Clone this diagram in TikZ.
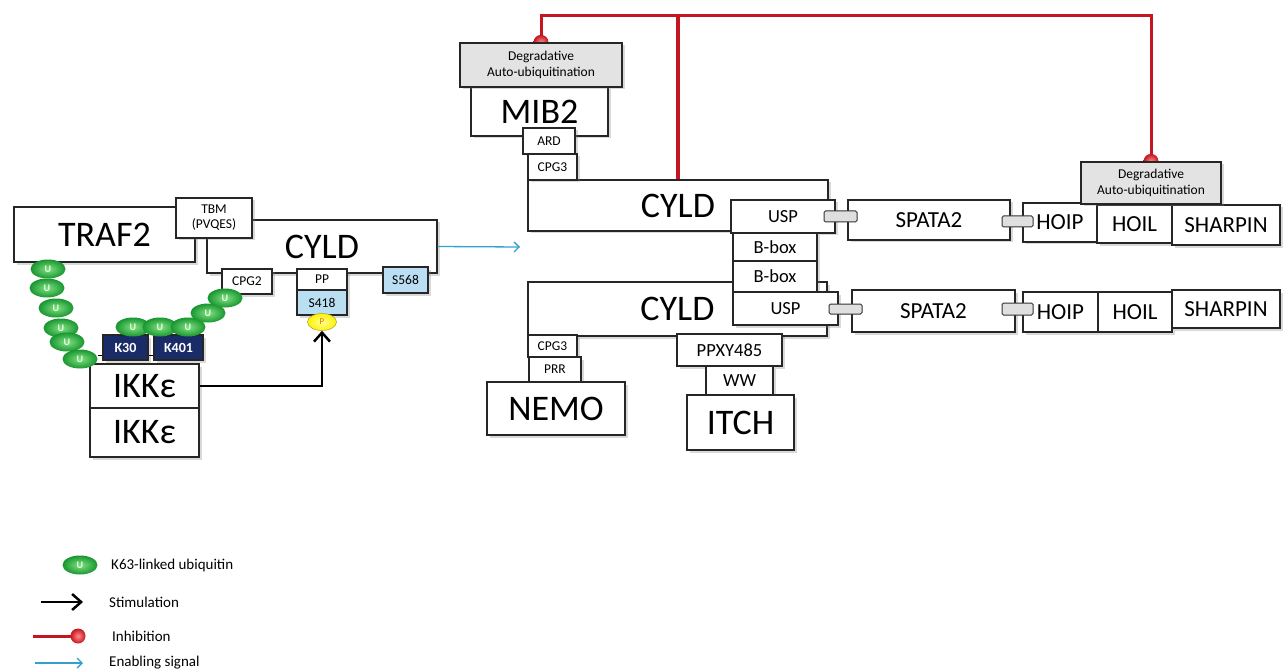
\documentclass[tikz,border=0pt]{standalone}
\usepackage{fontspec}
\setmainfont{Carlito}
\usetikzlibrary{arrows.meta}
\usetikzlibrary{shapes.geometric}
\usetikzlibrary{shadows}
\usetikzlibrary{backgrounds}

\definecolor{inhred}{RGB}{196,22,32}
\definecolor{enblue}{RGB}{52,160,208}
\definecolor{siteblue}{RGB}{186,222,242}
\definecolor{knavy}{RGB}{26,44,104}
\definecolor{ubgreen}{RGB}{24,150,48}
\definecolor{ublight}{RGB}{130,225,130}

\tikzset{
  box/.style={draw=black!85, line width=1.2pt, fill=white, inner sep=0pt,
    drop shadow={shadow xshift=2.5pt, shadow yshift=-2.5pt, opacity=0.3}},
  txtbig/.style={font=\fontsize{36}{40}\selectfont},
  txtmid/.style={font=\fontsize{23}{26}\selectfont},
  txtsml/.style={font=\fontsize{18.5}{21}\selectfont},
  txttiny/.style={font=\fontsize{13.5}{15}\selectfont},
  degbox/.style={box, fill=gray!22, align=center, font=\fontsize{13.5}{16}\selectfont},
  sitebox/.style={box, fill=siteblue, txttiny},
  lysbox/.style={box, fill=knavy, text=white, font=\fontsize{14}{15}\selectfont\bfseries},
  linker/.style={draw=black!80, line width=1pt, fill=gray!25, rounded corners=1.5pt,
    minimum width=33, minimum height=11, inner sep=0pt},
  ub/.style={ellipse, shade, inner color=ublight, outer color=ubgreen, minimum width=35, minimum height=19,
    inner sep=0pt, text=green!10, font=\fontsize{10}{10}\selectfont\bfseries},
  pdot/.style={ellipse, shade, inner color=yellow!40, outer color=yellow!90!orange, draw=yellow!60!black,
    line width=0.5pt, minimum width=29, minimum height=17,
    inner sep=0pt, text=orange!90!black, font=\fontsize{9}{9}\selectfont},
  redball/.style={circle, shade, inner color=red!45, outer color=inhred, minimum size=15, inner sep=0pt},
  inhib/.style={draw=inhred, line width=3pt},
  stim/.style={draw=black, line width=2.5pt, -{Straight Barb[length=9pt,width=16pt]}},
  enable/.style={draw=enblue, line width=1.3pt, -{Straight Barb[length=5pt,width=10pt]}},
  legtxt/.style={anchor=west, inner sep=0pt, font=\fontsize{15}{17}\selectfont},
}

\begin{document}
\begin{tikzpicture}[x=1pt, y=-1pt]
    \useasboundingbox (0,0) rectangle (1285,671);

    % TRAF2 - CYLD - IKKe
    \node[box, txtbig, minimum width=181, minimum height=55] (traf2) at (104.5,234.5) {TRAF2};
    \node[box, txtbig, minimum width=230, minimum height=53] (cyldL) at (322,246.5) {CYLD};
    \node[box, txttiny, align=center, minimum width=76, minimum height=40] (tbm) at (214,218) {TBM\\(PVQES)};
    \node[box, txttiny, minimum width=50, minimum height=25] (cpg2) at (247,281.5) {CPG2};
    \node[box, txttiny, minimum width=50, minimum height=21] (pp) at (322,279.5) {PP};
    \node[sitebox, minimum width=50, minimum height=25] (s418) at (322,302.5) {S418};
    \node[sitebox, minimum width=45, minimum height=26] (s568) at (405.5,280) {S568};
    \node[box, txtbig, minimum width=109, minimum height=44] (ikk1) at (144.5,386) {IKKε};
    \node[box, txtbig, minimum width=109, minimum height=49] (ikk2) at (144.5,432.5) {IKKε};
    \node[lysbox, minimum width=45, minimum height=25] (k30) at (125.5,347.5) {K30};
    \node[lysbox, minimum width=49, minimum height=25] (k401) at (178.5,347.5) {K401};

    \foreach \pos [count=\i] in {(48,269),(47,288),(56,308),(61,328),(67,342),(80,359)}
        \node[ub] (ul\i) at \pos {U};
    \foreach \pos [count=\i] in {(133,327),(160,327),(188,327),(208,313),(225,298)}
        \node[ub] (ur\i) at \pos {U};
    \draw[line width=1pt] ([yshift=-8pt]k30.west) -- ([yshift=-8pt]k30.west -| ul6.east);
    \draw[line width=1pt] ([yshift=-8pt]k30.east) -- ([yshift=-8pt]k401.west);

    \node[pdot] (p) at (322,322) {P};
    \draw[stim] (ikk1.east) -| (p.south);

    \coordinate (enabEnd) at (520,247);
    \draw[enable] (cyldL.east) -- (enabEnd);

    % MIB2 and the two CYLD
    \node[box, txtbig, minimum width=300, minimum height=51] (cyldT) at (678,205.5) {CYLD};
    \node[box, txtbig, minimum width=137, minimum height=49] (mib2) at (539.5,111.5) {MIB2};
    \node[degbox, minimum width=162, minimum height=44] (degL) at (541,65) {Degradative\\Auto-ubiquitination};
    \node[box, txttiny, minimum width=52, minimum height=26] (ard) at (549,141) {ARD};
    \node[box, txttiny, minimum width=49, minimum height=26] (cpg3T) at (552.5,167) {CPG3};
    \node[box, txtsml, minimum width=104, minimum height=33] (uspT) at (783,216.5) {USP};
    \node[box, txtbig, minimum width=299, minimum height=54] (cyldB) at (677.5,309) {CYLD};
    \node[box, txtsml, minimum width=84, minimum height=28] (bbox1) at (775,247) {B-box};
    \node[box, txtsml, minimum width=84, minimum height=31] (bbox2) at (775,276.5) {B-box};
    \node[box, txtsml, minimum width=105, minimum height=33] (uspB) at (785.5,308.5) {USP};
    \node[box, txttiny, minimum width=49, minimum height=22] (cpg3B) at (552.5,346) {CPG3};
    \node[box, txttiny, minimum width=52, minimum height=25] (prr) at (555,369.5) {PRR};
    \node[box, txtbig, minimum width=138, minimum height=53] (nemo) at (556,408.5) {NEMO};
    \node[box, txtsml, minimum width=105, minimum height=32] (ppxy) at (729.5,350) {PPXY485};
    \node[box, txtsml, minimum width=67, minimum height=29] (ww) at (739.5,380.5) {WW};
    \node[box, txtbig, minimum width=107, minimum height=55] (itch) at (740.5,422.5) {ITCH};

    % LUBAC side
    \node[box, txtmid, minimum width=162, minimum height=40] (spataT) at (929,220) {SPATA2};
    \node[box, txtmid, minimum width=74, minimum height=39] (hoipT) at (1060,222.5) {HOIP};
    \node[box, txtmid, minimum width=75, minimum height=38] (hoilT) at (1134.5,224) {HOIL};
    \node[box, txtmid, minimum width=108, minimum height=40] (sharpT) at (1226,225) {SHARPIN};
    \node[degbox, minimum width=140, minimum height=42] (degR) at (1151,183) {Degradative\\Auto-ubiquitination};
    \node[linker] (lnkT1) at (840.5,216.5) {};
    \node[linker, minimum width=31] (lnkT2) at (1017.5,221.5) {};
    \node[box, txtmid, minimum width=163, minimum height=42] (spataB) at (933.5,311) {SPATA2};
    \node[box, txtmid, minimum width=75, minimum height=40] (hoipB) at (1060.5,312) {HOIP};
    \node[box, txtmid, minimum width=74, minimum height=40] (hoilB) at (1135,312) {HOIL};
    \node[box, txtmid, minimum width=108, minimum height=38] (sharpB) at (1226,309) {SHARPIN};
    \node[linker, minimum height=10] (lnkB1) at (845.5,309) {};
    \node[linker, minimum width=31, minimum height=12] (lnkB2) at (1017.5,309) {};

    \begin{scope}[on background layer]
        \coordinate (redTop) at (540,16);
        \draw[inhib] (degL.north) -- (degL.north |- redTop) -| (degR.north);
        \draw[inhib, line width=4pt] (cyldT.north) -- (cyldT.north |- redTop);
        \node[redball] (ballL) at (degL.north) {};
        \node[redball] (ballR) at (degR.north) {};
    \end{scope}

    % legend
    \node[ub] (legUb) at (80,565) {U};
    \node[legtxt] (legUbTxt) at (111,565) {K63-linked ubiquitin};
    \coordinate (legStimA) at (41,602);
    \coordinate (legStimB) at (83,602);
    \draw[stim] (legStimA) -- (legStimB);
    \node[legtxt] (legStimTxt) at (109,602) {Stimulation};
    \coordinate (legInhA) at (33,636);
    \coordinate (legInhB) at (78,636);
    \draw[inhib] (legInhA) -- (legInhB);
    \node[redball] (legBall) at (legInhB) {};
    \node[legtxt] (legInhTxt) at (112,636) {Inhibition};
    \coordinate (legEnA) at (35,663);
    \coordinate (legEnB) at (83,663);
    \draw[enable] (legEnA) -- (legEnB);
    \node[legtxt] (legEnTxt) at (109,663) {Enabling signal};
\end{tikzpicture}
\end{document}
